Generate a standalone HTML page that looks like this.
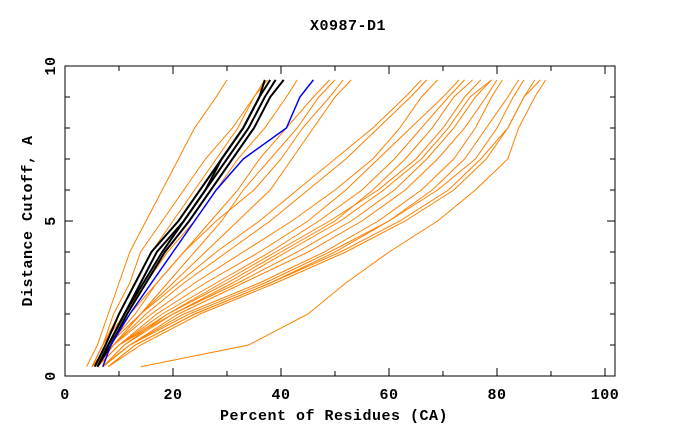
<!DOCTYPE html>
<html><head><meta charset="utf-8"><style>
body{margin:0;background:#fff;}
svg text{font-family:"Liberation Mono",monospace;font-weight:bold;font-size:15px;letter-spacing:0.5px;fill:#000;}
</style></head><body>
<svg id="chart" width="680" height="440" viewBox="0 0 680 440" xmlns="http://www.w3.org/2000/svg">
<rect width="680" height="440" fill="#fff"/>
<text x="348" y="30" text-anchor="middle">X0987-D1</text>
<text x="334" y="420" text-anchor="middle">Percent of Residues (CA)</text>
<text transform="translate(32,221) rotate(-90)" text-anchor="middle">Distance Cutoff, A</text>
<g id="series"></g>
<g id="axes"></g>
</svg>
<script>
const yLevels=[0.3,1,2,3,4,5,6,7,8,9,9.55];
const orangeSeries=[
[4,6,8,10,12,15,18,21,24,28,30],
[5,7,9,12,14,18,22,26,31,35,37],
[5,7,10,13,16,20,24,28,32,35,37.5],
[5,7,11,15,19,24,28,32,37,41,43],
[6,8,13,17,22,27,32,36,41,46,49],
[6,9,14,19,24,29,33,38,43,47,50],
[5,8,12,17,22,28,35,40,44,49,51.5],
[6,9,14,20,26,32,38,42,46,50,53],
[5,8,14,21,28,36,43,50,57,63,66],
[6,9,15,22,30,38,45,52,58,64,67],
[5,9,16,24,33,42,50,57,62,66,69],
[6,10,17,26,36,45,52,58,64,70,73],
[6,10,18,28,38,47,55,61,66,71,74],
[7,11,19,30,40,50,57,63,68,72,75.5],
[6,10,20,32,43,53,61,67,72,76,79],
[7,12,21,33,45,55,63,69,74,78,80],
[7,12,22,36,48,58,66,72,76,79,81],
[8,13,24,38,50,60,68,74,78,82,84],
[7,12,23,37,49,60,69,76,80,83,85],
[8,14,25,39,52,63,72,78,82,85,87],
[8,13,24,38,51,62,71,77,82,85,88],
[7,11,20,31,41,51,59,66,71,75,79],
[6,10,19,29,39,49,58,65,70,74,77],
[14,34,45,52,60,69,76,82,84,87,89]
];
const blackSeries=[
[6,8,11,14,17,22,26,29,33,36,38],
[5.5,7.5,10,13,16,21,25,29,33,36,37],
[6,8,11,14.5,18,22,26,30,34,37,39],
[6,8.5,11.5,15,18.5,23,27,31,35,38,40.5]
];
const blueSeries=[7,8.5,12,16,20,24,28,33,41,43.5,46];
const xTicks=[0,20,40,60,80,100];
const yTicks=[0,5,10];
const L=65,R=615,T=66,B=376;
const xs=v=>L+v*5.4;
const ys=v=>B-v*31;
const NS="http://www.w3.org/2000/svg";
const sg=document.getElementById('series');
function draw(arr,color,w,name){
  const p=document.createElementNS(NS,'path');
  p.setAttribute('d',arr.map((x,i)=>(i?'L':'M')+xs(x).toFixed(1)+','+ys(yLevels[i]).toFixed(1)).join(''));
  p.setAttribute('fill','none');p.setAttribute('stroke',color);p.setAttribute('stroke-width',w);
  
  
  sg.appendChild(p);
}
orangeSeries.forEach((a,i)=>draw(a,'#ff8000',1,'orange-line-'+i));
blackSeries.forEach((a,i)=>draw(a,'#000',2,'black-line-'+i));
draw(blueSeries,'#0000ff',1.5,'blue-line');
const ax=document.getElementById('axes');
let d=`M${L},${T}H${R}V${B}H${L}Z`;
for(let v=0;v<=100;v+=10){const x=xs(v),len=v%20===0?8:5;d+=`M${x},${B}v-${len}M${x},${T}v${len}`;}
for(let v=0;v<=10;v++){const y=ys(v),len=v%5===0?8:5;d+=`M${L},${y}h${len}M${R},${y}h-${len}`;}
const ap=document.createElementNS(NS,'path');
ap.setAttribute('d',d);ap.setAttribute('stroke','#000');ap.setAttribute('fill','none');ap.setAttribute('stroke-width','1');


ax.appendChild(ap);
xTicks.forEach(v=>{const t=document.createElementNS(NS,'text');t.setAttribute('x',xs(v));t.setAttribute('y',B+23);t.setAttribute('text-anchor','middle');t.textContent=v;


ax.appendChild(t);});
yTicks.forEach(v=>{const t=document.createElementNS(NS,'text');t.setAttribute('transform',`translate(${L-10},${ys(v)}) rotate(-90)`);t.setAttribute('text-anchor','middle');t.textContent=v;


ax.appendChild(t);});
</script>
</body></html>
